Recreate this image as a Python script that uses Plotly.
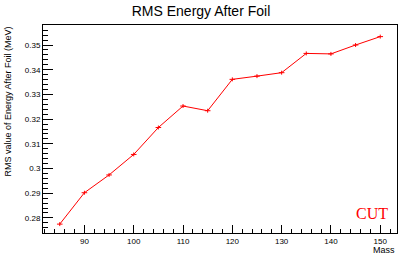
import plotly.graph_objects as go

mass = [85, 90, 95, 100, 105, 110, 115, 120, 125, 130, 135, 140, 145, 150]
rms = [0.2775, 0.2902, 0.2974, 0.3057, 0.3166, 0.3253, 0.3234, 0.3361, 0.3374, 0.3388, 0.3466, 0.3464, 0.3500, 0.3534]
err = [0.0008] * len(mass)

RED = "#ff0000"
fig = go.Figure()
fig.add_trace(go.Scatter(
    x=mass, y=rms, mode="lines+markers",
    line=dict(color=RED, width=1),
    marker=dict(symbol="line-ew", size=4, line=dict(color=RED, width=1), color=RED),
    error_y=dict(type="data", array=err, color=RED, thickness=1, width=0),
    showlegend=False,
))

font = "Liberation Sans, Arial, sans-serif"
fig.update_layout(
    width=402, height=256,
    margin=dict(l=43, r=5, t=25, b=23),
    paper_bgcolor="white", plot_bgcolor="white",
    title=dict(text="RMS Energy After Foil", x=0.5, xanchor="center", y=0.955, yanchor="middle",
               font=dict(family=font, size=14, color="black")),
    font=dict(family=font, size=8, color="black"),
)
fig.update_xaxes(
    range=[81.6, 153.4], showgrid=False, zeroline=False, automargin=False,
    showline=True, linecolor="black", linewidth=1, mirror=True,
    ticks="inside", ticklen=8, tickcolor="black", tickwidth=1,
    tick0=90, dtick=10, tickfont=dict(size=8, family=font),
    minor=dict(ticks="inside", ticklen=4, dtick=2, tick0=90, tickcolor="black"),
)
fig.update_yaxes(
    range=[0.2739, 0.3581], showgrid=False, zeroline=False, automargin=False,
    showline=True, linecolor="black", linewidth=1, mirror=True,
    ticks="inside", ticklen=10, tickcolor="black", tickwidth=1,
    tick0=0.28, dtick=0.01, tickformat="~g", tickfont=dict(size=8, family=font),
    minor=dict(ticks="inside", ticklen=5, dtick=0.002, tick0=0.28, tickcolor="black"),
)
fig.add_annotation(text="RMS value of Energy After Foil (MeV)", xref="paper", yref="paper",
                   x=-0.1, y=1.0, xanchor="center", yanchor="top", textangle=-90,
                   showarrow=False, font=dict(family=font, size=9, color="black"))
fig.add_annotation(text="Mass", xref="paper", yref="paper", x=1.0, y=-0.082,
                   xanchor="right", yanchor="middle", showarrow=False,
                   font=dict(family=font, size=9, color="black"))
fig.add_annotation(text="CUT", xref="paper", yref="paper", x=0.98, y=0.093,
                   xanchor="right", yanchor="middle", showarrow=False,
                   font=dict(family="Liberation Serif, Times New Roman, serif", size=16, color=RED))
fig.write_html("out.html", config={"displayModeBar": False},
               post_script="document.body.style.margin='0';document.body.style.overflow='hidden';")
